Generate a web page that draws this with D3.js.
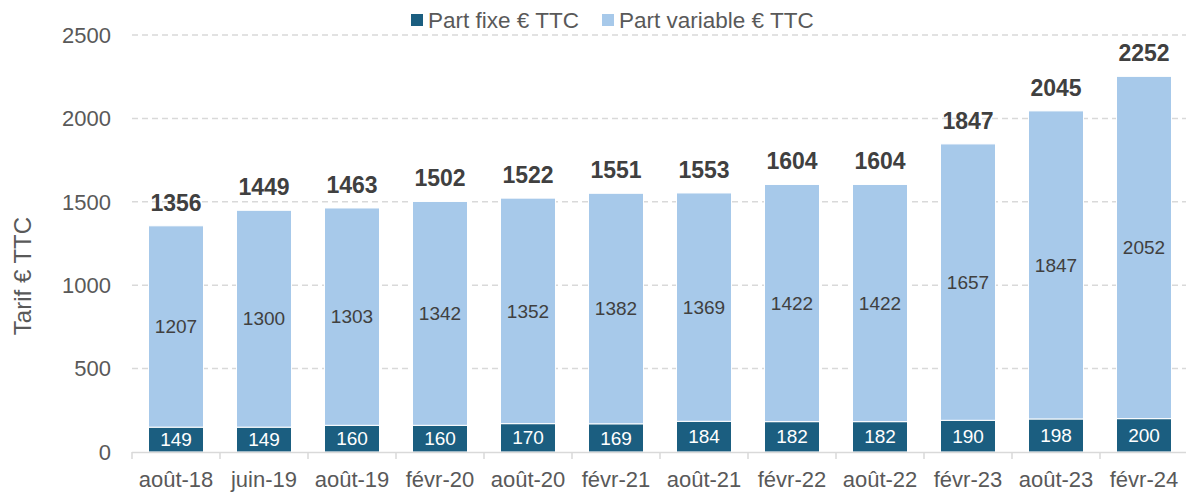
<!DOCTYPE html>
<html>
<head>
<meta charset="utf-8">
<script src="https://cdn.jsdelivr.net/npm/d3@7"></script>
<style>
  body { margin: 0; background: #fff; }
  text { font-family: "Liberation Sans", Arial, sans-serif; }
</style>
</head>
<body>
<div class="chart"></div>
<script>
var categories = ["août-18", "juin-19", "août-19", "févr-20", "août-20", "févr-21",
                  "août-21", "févr-22", "août-22", "févr-23", "août-23", "févr-24"];
var partFixe = [149, 149, 160, 160, 170, 169, 184, 182, 182, 190, 198, 200];
var partVariable = [1207, 1300, 1303, 1342, 1352, 1382, 1369, 1422, 1422, 1657, 1847, 2052];
var totals = [1356, 1449, 1463, 1502, 1522, 1551, 1553, 1604, 1604, 1847, 2045, 2252];
var yTicks = [0, 500, 1000, 1500, 2000, 2500];
var seriesNames = ["Part fixe € TTC", "Part variable € TTC"];

var width = 1186,
    height = 493,
    margin = { top: 35, right: -2, bottom: 41, left: 132 };

var colFixe = "#1b5e80",
    colVar = "#a7c9ea";

var svg = d3.select(".chart")
  .append("svg")
    .attr("width", width)
    .attr("height", height);

var x = d3.scaleBand()
  .domain(categories)
  .range([margin.left, width - margin.right])
  .paddingInner(0.375)
  .paddingOuter(0.1875);

var y = d3.scaleLinear()
  .domain([0, 2500])
  .range([height - margin.bottom, margin.top]);

// Gridlines
svg.append("g")
  .selectAll("line")
  .data(yTicks.filter(function(d) { return d > 0; }))
  .enter()
  .append("line")
    .attr("x1", margin.left)
    .attr("x2", width - margin.right)
    .attr("y1", function(d) { return y(d); })
    .attr("y2", function(d) { return y(d); })
    .attr("stroke", "#d9d9d9")
    .attr("stroke-width", 1.5)
    .attr("stroke-dasharray", "6,4");

// Y tick labels
svg.append("g")
  .selectAll("text")
  .data(yTicks)
  .enter()
  .append("text")
    .attr("x", margin.left - 21)
    .attr("y", function(d) { return y(d); })
    .attr("dy", "0.35em")
    .attr("text-anchor", "end")
    .attr("fill", "#595959")
    .style("font-size", "22px")
    .text(function(d) { return d; });

// Y axis title
svg.append("text")
  .attr("transform", "translate(23,276) rotate(-90)")
  .attr("text-anchor", "middle")
  .attr("dy", "0.35em")
  .attr("fill", "#595959")
  .style("font-size", "24px")
  .text("Tarif € TTC");

// Bars
var bars = svg.append("g")
  .selectAll("g")
  .data(categories)
  .enter()
  .append("g");

bars.append("rect")
  .attr("x", function(d) { return x(d); })
  .attr("width", x.bandwidth())
  .attr("y", function(d, i) { return y(partFixe[i]); })
  .attr("height", function(d, i) { return y(0) - y(partFixe[i]); })
  .attr("fill", colFixe)
  .attr("stroke", "#fff")
  .attr("stroke-width", 1);

bars.append("rect")
  .attr("x", function(d) { return x(d); })
  .attr("width", x.bandwidth())
  .attr("y", function(d, i) { return y(partFixe[i] + partVariable[i]); })
  .attr("height", function(d, i) { return y(partFixe[i]) - y(partFixe[i] + partVariable[i]); })
  .attr("fill", colVar)
  .attr("stroke", "#fff")
  .attr("stroke-width", 1);

// Values inside bars
bars.append("text")
  .attr("x", function(d) { return x(d) + x.bandwidth() / 2; })
  .attr("y", function(d, i) { return y(partFixe[i] / 2); })
  .attr("dy", "0.35em")
  .attr("text-anchor", "middle")
  .attr("fill", "#fff")
  .style("font-size", "19px")
  .text(function(d, i) { return partFixe[i]; });

bars.append("text")
  .attr("x", function(d) { return x(d) + x.bandwidth() / 2; })
  .attr("y", function(d, i) { return y(partFixe[i] + partVariable[i] / 2); })
  .attr("dy", "0.35em")
  .attr("text-anchor", "middle")
  .attr("fill", "#404040")
  .style("font-size", "19px")
  .text(function(d, i) { return partVariable[i]; });

// Totals above bars
bars.append("text")
  .attr("x", function(d) { return x(d) + x.bandwidth() / 2; })
  .attr("y", function(d, i) { return y(totals[i]) - 15; })
  .attr("text-anchor", "middle")
  .attr("fill", "#404040")
  .style("font-size", "23px")
  .style("font-weight", "bold")
  .text(function(d, i) { return totals[i]; });

// X axis
var xAxis = svg.append("g");
xAxis.append("line")
  .attr("x1", margin.left)
  .attr("x2", width - margin.right)
  .attr("y1", y(0) + 0.5)
  .attr("y2", y(0) + 0.5)
  .attr("stroke", "#d9d9d9")
  .attr("stroke-width", 1.5);

var step = x.step();
xAxis.selectAll(".tick")
  .data(d3.range(categories.length + 1))
  .enter()
  .append("line")
    .attr("class", "tick")
    .attr("x1", function(i) { return margin.left + i * step; })
    .attr("x2", function(i) { return margin.left + i * step; })
    .attr("y1", y(0))
    .attr("y2", y(0) + 7)
    .attr("stroke", "#d9d9d9")
    .attr("stroke-width", 1.5);

xAxis.selectAll(".lab")
  .data(categories)
  .enter()
  .append("text")
    .attr("class", "lab")
    .attr("x", function(d) { return x(d) + x.bandwidth() / 2; })
    .attr("y", y(0) + 27)
    .attr("dy", "0.35em")
    .attr("text-anchor", "middle")
    .attr("fill", "#595959")
    .style("font-size", "22px")
    .text(function(d) { return d; });

// Legend
var legendX = [411, 602];
var legend = svg.append("g")
  .selectAll("g")
  .data(seriesNames)
  .enter()
  .append("g")
    .attr("transform", function(d, i) { return "translate(" + legendX[i] + ",20)"; });

legend.append("rect")
  .attr("x", 0)
  .attr("y", -6)
  .attr("width", 12)
  .attr("height", 12)
  .attr("fill", function(d, i) { return i === 0 ? colFixe : colVar; });

legend.append("text")
  .attr("x", 17)
  .attr("y", 0)
  .attr("dy", "0.35em")
  .attr("fill", "#595959")
  .style("font-size", "22.5px")
  .text(function(d) { return d; });
</script>
</body>
</html>
